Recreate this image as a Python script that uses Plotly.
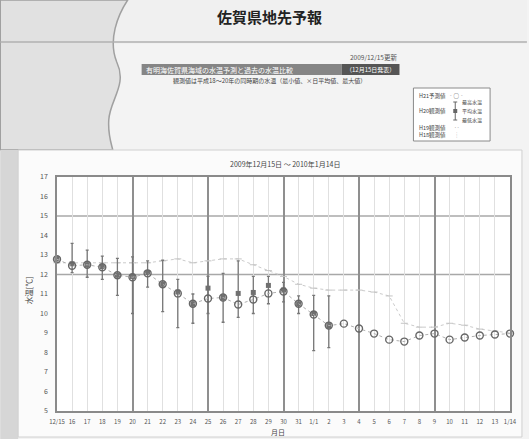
import plotly.graph_objects as go

# ---- data -------------------------------------------------------------
day_labels = ["12/15", "16", "17", "18", "19", "20", "21", "22", "23", "24", "25",
              "26", "27", "28", "29", "30", "31", "1/1", "2", "3", "4", "5", "6",
              "7", "8", "9", "10", "11", "12", "13", "1/14"]

# H21 forecast (open circles)
h21_forecast = [12.78, 12.45, 12.5, 12.37, 11.96, 11.86, 12.06, 11.5, 11.03, 10.5,
                10.77, 10.82, 10.46, 10.72, 11.03, 11.13, 10.5, 9.95, 9.38, 9.48,
                9.23, 8.97, 8.66, 8.56, 8.87, 8.97, 8.66, 8.77, 8.87, 8.92, 8.97]

# H20 observations: daily mean, max, min (12/15 - 1/2)
h20_mean = [12.8, 12.55, 12.5, 12.4, 11.96, 11.9, 12.1, 11.5, 11.1, 10.5,
            11.3, 10.82, 11.03, 11.08, 11.44, 11.2, 10.5, 10.0, 9.38]
h20_max = [12.9, 13.6, 13.25, 12.94, 12.83, 12.9, 12.7, 12.73, 11.75, 11.0,
           11.9, 12.06, 12.7, 11.9, 11.9, 11.6, 10.9, 10.93, 10.9]
h20_min = [12.7, 12.1, 11.86, 11.75, 10.93, 10.0, 11.35, 10.1, 9.28, 9.5,
           10.0, 9.55, 9.8, 10.0, 10.5, 10.6, 10.0, 8.1, 8.25]

# H19 observations (daily mean)
h19_mean = [12.6, 12.6, 12.6, 12.6, 12.6, 12.6, 12.6, 12.7, 12.8, 12.6,
            12.7, 12.8, 12.8, 12.5, 12.2, 11.9, 11.5, 11.3, 11.2, 11.2,
            11.2, 11.1, 10.9, 9.5, 9.3, 9.3, 9.5, 9.4, 9.2, 9.1, 9.0]

y_ticks = list(range(5, 18))
major_days = [5, 10, 15, 20, 25]
ref_temps = [12, 15]

idx = list(range(len(day_labels)))
font_jp = "Noto Sans CJK JP"

# plot area in pixels: x 57..512, y 177..411
W, H = 529, 439
L, R, T, B = 57, 17, 177, 28
PW, PH = W - L - R, H - T - B


def px(x):
    return (x - L) / PW


def py(y):
    return (H - B - y) / PH


fig = go.Figure()

fig.add_trace(go.Scatter(
    x=idx, y=h19_mean, mode="lines+markers", name="H19観測値",
    line=dict(color="#cbcbcb", width=1, dash="dot"),
    marker=dict(symbol="line-ew-open", size=5, color="#c4c4c4", line=dict(width=1, color="#c4c4c4")),
    cliponaxis=False, showlegend=False))

fig.add_trace(go.Scatter(
    x=idx[:len(h20_mean)], y=h20_mean, mode="markers", name="H20観測値",
    marker=dict(symbol="square", size=5, color="#707070"),
    error_y=dict(type="data", symmetric=False,
                 array=[a - m for a, m in zip(h20_max, h20_mean)],
                 arrayminus=[m - b for m, b in zip(h20_mean, h20_min)],
                 color="#777777", thickness=1.3, width=1.5),
    cliponaxis=False, showlegend=False))

fig.add_trace(go.Scatter(
    x=idx, y=h21_forecast, mode="lines+markers", name="H21予測値",
    line=dict(color="#b0b0b0", width=1, dash="dot"),
    marker=dict(symbol="circle-open", size=7, color="#666", line=dict(width=1.4, color="#666")),
    cliponaxis=False, showlegend=False))

# overlay axis carrying the darker 5-day grid lines
fig.add_trace(go.Scatter(x=[0, 30], y=[5, 5], xaxis="x2", mode="none",
                         showlegend=False, hoverinfo="skip"))

shapes = []
# page background pieces
shapes.append(dict(type="rect", xref="paper", yref="paper", x0=px(0), x1=px(W), y0=py(0), y1=py(44),
                   fillcolor="#f0f0f0", line=dict(width=0), layer="below"))
wave = "M {},{} L {},{} C {},{} {},{} {},{} C {},{} {},{} {},{} C {},{} {},{} {},{} L {},{} Z".format(
    px(0), py(0), px(128), py(0),
    px(118), py(15), px(108), py(40), px(117), py(62),
    px(128), py(85), px(110), py(100), px(109), py(120),
    px(108), py(135), px(112), py(145), px(113), py(150),
    px(0), py(150))
shapes.append(dict(type="path", xref="paper", yref="paper", path=wave,
                   fillcolor="#e1e1e1", line=dict(color="#a0a0a0", width=1.5), layer="below"))
shapes.append(dict(type="line", xref="paper", yref="paper", x0=px(0), x1=px(W), y0=py(42), y1=py(42),
                   line=dict(color="#b0b0b0", width=1.5), layer="below"))
# chart panel
shapes.append(dict(type="rect", xref="paper", yref="paper", x0=px(0), x1=px(18), y0=py(150), y1=py(H),
                   fillcolor="#d6d6d6", line=dict(width=0), layer="below"))
shapes.append(dict(type="rect", xref="paper", yref="paper", x0=px(18), x1=px(524), y0=py(150), y1=py(437),
                   fillcolor="#fbfbfb", line=dict(color="#d0d0d0", width=1), layer="below"))
shapes.append(dict(type="rect", xref="paper", yref="paper", x0=0, x1=1, y0=0, y1=1,
                   fillcolor="#ffffff", line=dict(width=0), layer="below"))
# reference temperature lines
for t in ref_temps:
    shapes.append(dict(type="line", xref="paper", yref="y", x0=0, x1=1, y0=t, y1=t,
                       line=dict(color="#a8a8a8", width=1.3), layer="below"))
# header banner
shapes.append(dict(type="rect", xref="paper", yref="paper", x0=px(142), x1=px(343), y0=py(64), y1=py(75),
                   fillcolor="#858585", line=dict(width=0)))
shapes.append(dict(type="rect", xref="paper", yref="paper", x0=px(343), x1=px(401), y0=py(64), y1=py(75),
                   fillcolor="#555555", line=dict(width=0)))
# legend box
shapes.append(dict(type="rect", xref="paper", yref="paper", x0=px(415), x1=px(492), y0=py(88), y1=py(141),
                   fillcolor="#ffffff", line=dict(color="#8a8a8a", width=1)))
# error-bar glyph in the legend
shapes.append(dict(type="line", xref="paper", yref="paper", x0=px(457), x1=px(457), y0=py(102), y1=py(120),
                   line=dict(color="#666", width=1)))
for yy in (102, 120):
    shapes.append(dict(type="line", xref="paper", yref="paper", x0=px(455), x1=px(459), y0=py(yy), y1=py(yy),
                       line=dict(color="#666", width=1)))
shapes.append(dict(type="rect", xref="paper", yref="paper", x0=px(455), x1=px(459), y0=py(109), y1=py(113),
                   fillcolor="#666", line=dict(width=0)))

ann = []


def text(x, y, s, size=7, color="#444", anchor="left", **kw):
    ann.append(dict(x=px(x), y=py(y), xref="paper", yref="paper", text=s, showarrow=False,
                    xanchor=anchor, yanchor="middle",
                    font=dict(family=font_jp, size=size, color=color), **kw))


text(270, 16, "<b>佐賀県地先予報</b>", size=15, color="#222", anchor="center")
text(401, 57, "2009/12/15更新", size=6.5, color="#555", anchor="right")
text(144, 69.5, "有明海佐賀県海域の水温予測と過去の水温比較", size=7, color="#ffffff")
text(372, 69.5, "（12月15日発表）", size=6, color="#ffffff", anchor="center")
text(270, 81, "観測値は平成18～20年の同時期の水温（最小値、×日平均値、最大値）", size=6, color="#444",
     anchor="center")
# legend text
text(419, 96, "H21予測値", size=5.5)
text(458, 96, "‐○‐", size=5.5, anchor="center")
text(419, 111, "H20観測値", size=5.5)
text(462, 102, "最高水温", size=5)
text(462, 111, "平均水温", size=5)
text(462, 120, "最低水温", size=5)
text(419, 128, "H19観測値", size=5.5)
text(459, 128, "‥", size=5.5, anchor="center", color="#999")
text(419, 135, "H18観測値", size=5.5)
text(459, 135, "┆", size=5.5, anchor="center", color="#999")
# chart titles
text(286, 164, "2009年12月15日 ～ 2010年1月14日", size=7, color="#444", anchor="center")
text(28, 290, "水温[℃]", size=7.5, color="#444", anchor="center", textangle=-90)
text(279, 432, "月日", size=7, color="#444", anchor="center")

fig.update_layout(
    width=W, height=H,
    margin=dict(l=L, r=R, t=T, b=B),
    paper_bgcolor="#f3f3f3",
    plot_bgcolor="rgba(0,0,0,0)",
    font=dict(family=font_jp, size=7, color="#444"),
    shapes=shapes,
    annotations=ann,
    xaxis=dict(range=[0, 30], tickmode="array", tickvals=idx, ticktext=day_labels,
               tickangle=0, showgrid=True, gridcolor="#e0e0e0", gridwidth=1,
               showline=True, linecolor="#8a8a8a", linewidth=1.5, mirror=True,
               ticks="", ticklabelstandoff=4, zeroline=False, tickfont=dict(size=6, color="#555")),
    xaxis2=dict(range=[0, 30], overlaying="x", side="bottom", tickmode="array",
                tickvals=major_days, showticklabels=False, showgrid=True,
                gridcolor="#8f8f8f", gridwidth=1.6, zeroline=False, showline=False, ticks=""),
    yaxis=dict(range=[5, 17], tickmode="array", tickvals=y_ticks, showgrid=False,
               showline=True, linecolor="#8a8a8a", linewidth=1.5, mirror=True,
               ticks="", ticklabelstandoff=6, zeroline=False, tickfont=dict(size=7, color="#555")),
)

fig.write_html("out.html")
